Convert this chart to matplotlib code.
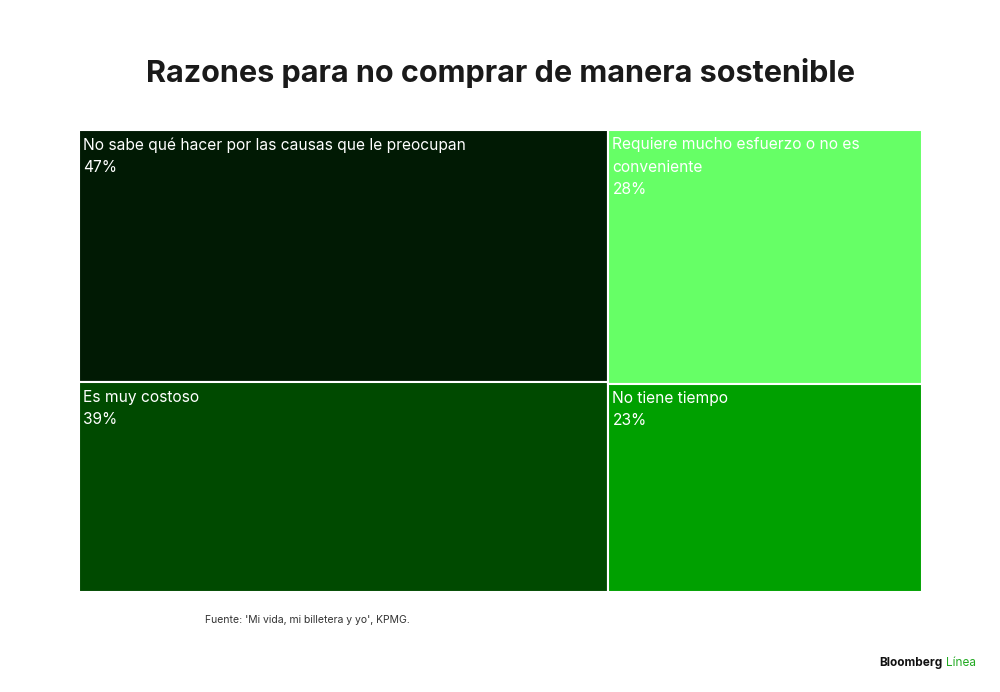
import matplotlib
matplotlib.use("Agg")
import matplotlib.pyplot as plt
from matplotlib.patches import Rectangle

# data
labels = ["No sabe qué hacer por las causas que le preocupan",
          "Es muy costoso",
          "Requiere mucho esfuerzo o no es\nconveniente",
          "No tiene tiempo"]
values = [47, 39, 28, 23]
colors = ["#011a04", "#004a00", "#66ff66", "#00a000"]
columns = [[0, 1], [2, 3]]

fig = plt.figure(figsize=(10, 6.92), dpi=100)
ax = fig.add_axes([0.079, 1 - 592 / 692, 0.843, 462 / 692])

total = sum(values)
x0 = 0.0
for col in columns:
    col_sum = sum(values[i] for i in col)
    w = col_sum / total
    y_top = 1.0
    for i in col:
        h = values[i] / col_sum
        ax.add_patch(Rectangle((x0, y_top - h), w, h, facecolor=colors[i],
                               edgecolor="white", linewidth=1.5))
        ax.text(x0 + 0.005, y_top - 0.016, f"{labels[i]}\n{values[i]}%",
                ha="left", va="top", color="white", fontsize=11.2,
                family="Inter", linespacing=1.6)
        y_top -= h
    x0 += w

ax.set_xlim(0, 1)
ax.set_ylim(0, 1)
ax.axis("off")

fig.text(0.5, 1 - 73 / 692, "Razones para no comprar de manera sostenible",
         ha="center", va="center", fontsize=22, fontweight="bold",
         family="Inter", color="#1a1a1a")
fig.text(0.205, 1 - 620 / 692, "Fuente: 'Mi vida, mi billetera y yo', KPMG.",
         ha="left", va="center", fontsize=7.5, family="Inter", color="#333333")
fig.text(0.943, 1 - 663 / 692, "Bloomberg", ha="right", va="center",
         fontsize=8.5, fontweight="bold", family="Inter", color="#111111")
fig.text(0.946, 1 - 663 / 692, "Línea", ha="left", va="center",
         fontsize=8.5, family="Inter", color="#22aa22")

fig.savefig("out.png", dpi=100, facecolor="white")
